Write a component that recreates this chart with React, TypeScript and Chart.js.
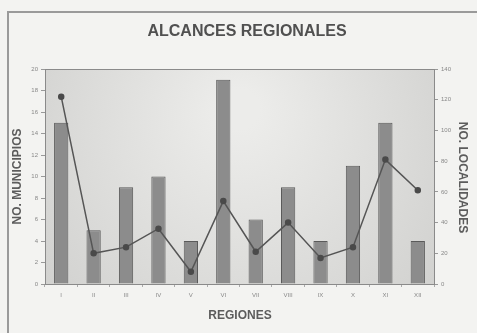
import React, { useEffect, useRef } from "react";
import { Chart, registerables } from "chart.js";
Chart.register(...registerables);

const regiones = ["I", "II", "III", "IV", "V", "VI", "VII", "VIII", "IX", "X", "XI", "XII"];
const municipios = [15, 5, 9, 10, 4, 19, 6, 9, 4, 11, 15, 4];
const localidades = [122, 20, 24, 36, 8, 54, 21, 40, 17, 24, 81, 61];
const leftTicks = [0, 2, 4, 6, 8, 10, 12, 14, 16, 18, 20];
const rightTicks = [0, 20, 40, 60, 80, 100, 120, 140];
const chartTitle = "ALCANCES REGIONALES";
const xTitle = "REGIONES";
const yTitle = "NO. MUNICIPIOS";
const y1Title = "NO. LOCALIDADES";

const framePlugin = {
  id: "frame",
  beforeDraw(chart: any) {
    const { ctx, chartArea: a, width, height } = chart;
    ctx.save();
    ctx.fillStyle = "#f3f3f1";
    ctx.fillRect(0, 0, width, height);
    ctx.strokeStyle = "#9a9a9a";
    ctx.lineWidth = 2;
    ctx.beginPath();
    ctx.moveTo(8, height);
    ctx.lineTo(8, 12);
    ctx.lineTo(width, 12);
    ctx.stroke();
    const g = ctx.createRadialGradient(
      (a.left + a.right) / 2, a.top + 40, 20,
      (a.left + a.right) / 2, a.top + 80, 260
    );
    g.addColorStop(0, "#ececea");
    g.addColorStop(1, "#cfcfcd");
    ctx.fillStyle = g;
    ctx.fillRect(a.left, a.top, a.right - a.left, a.bottom - a.top);
    ctx.restore();
  },
  afterDatasetsDraw(chart: any) {
    const { ctx, chartArea: a } = chart;
    ctx.save();
    ctx.strokeStyle = "#8a8a8a";
    ctx.lineWidth = 1;
    ctx.strokeRect(a.left + 0.5, a.top + 0.5, a.right - a.left, a.bottom - a.top);
    ctx.restore();
  },
  afterDraw(chart: any) {
    const { ctx, chartArea: a } = chart;
    const midY = (a.top + a.bottom) / 2;
    ctx.save();
    ctx.textAlign = "center";
    ctx.textBaseline = "middle";
    ctx.fillStyle = "#505050";
    ctx.font = "bold 16px 'Liberation Sans'";
    ctx.fillText(chartTitle, 247, 32);
    ctx.fillStyle = "#5c5c5c";
    ctx.font = "bold 12px 'Liberation Sans'";
    ctx.fillText(xTitle, 240, 316);
    ctx.save();
    ctx.translate(18, midY);
    ctx.rotate(-Math.PI / 2);
    ctx.fillText(yTitle, 0, 0);
    ctx.restore();
    ctx.save();
    ctx.translate(462, midY + 1);
    ctx.rotate(Math.PI / 2);
    ctx.fillText(y1Title, 0, 0);
    ctx.restore();
    ctx.restore();
  },
};

export default function App() {
  const ref = useRef<HTMLCanvasElement>(null);
  useEffect(() => {
    const chart = new Chart(ref.current!, {
      type: "bar",
      data: {
        labels: regiones,
        datasets: [
          {
            type: "line",
            data: localidades,
            yAxisID: "y1",
            borderColor: "#555555",
            backgroundColor: "#4a4a4a",
            borderWidth: 1.5,
            pointRadius: 2.5,
            pointBackgroundColor: "#4a4a4a",
            pointBorderColor: "#4a4a4a",
            tension: 0,
            order: 0,
          } as any,
          {
            type: "bar",
            data: municipios,
            yAxisID: "y",
            backgroundColor: "#8c8c8c",
            borderColor: "#5a5a5a",
            borderWidth: 1,
            barPercentage: 0.44,
            categoryPercentage: 1,
            order: 1,
          },
        ],
      },
      options: {
        responsive: false,
        animation: false,
        layout: { padding: { left: 0, right: 0, top: 69, bottom: 0 } },
        plugins: {
          legend: { display: false },
          tooltip: { enabled: false },
          title: { display: false },
        },
        scales: {
          x: {
            grid: { display: true, drawOnChartArea: false, tickLength: 3, color: "#aaa" },
            border: { display: false },
            ticks: {
              color: "#888",
              font: { family: "Liberation Sans", size: 6 },
              padding: 5,
              maxRotation: 0,
            },
            afterFit: (s: any) => { s.height = 49; },
          },
          y: {
            position: "left",
            min: 0,
            max: 20,
            afterBuildTicks: (s: any) => { s.ticks = leftTicks.map((v) => ({ value: v })); },
            grid: { drawOnChartArea: false, tickLength: 4, color: "#999" },
            border: { display: false },
            ticks: {
              color: "#888",
              font: { family: "Liberation Sans", size: 6 },
              padding: 3,
            },
            afterFit: (s: any) => { s.width = 45; },
          },
          y1: {
            position: "right",
            min: 0,
            max: 140,
            afterBuildTicks: (s: any) => { s.ticks = rightTicks.map((v) => ({ value: v })); },
            grid: { drawOnChartArea: false, tickLength: 4, color: "#999" },
            border: { display: false },
            ticks: {
              color: "#888",
              font: { family: "Liberation Sans", size: 6 },
              padding: 3,
            },
            afterFit: (s: any) => { s.width = 43; },
          },
        },
      },
      plugins: [framePlugin],
    });
    return () => chart.destroy();
  }, []);
  return (
    <div style={{ position: "fixed", left: 0, top: 0, width: 477, height: 333 }}>
      <canvas ref={ref} width={477} height={333} />
    </div>
  );
}
